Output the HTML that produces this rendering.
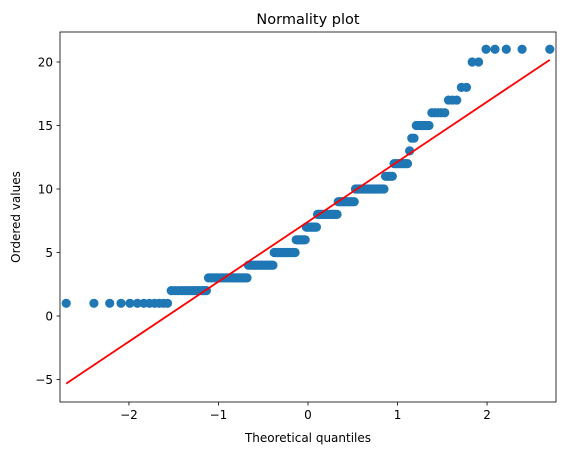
<!DOCTYPE html>
<html><head><meta charset="utf-8">
<style>
body{margin:0;background:#fff;}
svg{display:block;font-family:"DejaVu Sans","Liberation Sans",sans-serif;}
</style></head>
<body>
<svg id="chart" width="565" height="455"></svg>
<script>
const values = [1,2,3,4,5,6,7,8,9,10,11,12,13,14,15,16,17,18,20,21];
const counts = [12,14,24,20,19,9,10,18,14,21,5,8,1,2,6,5,3,2,2,5];
const xTicks = [-2,-1,0,1,2];
const yTicks = [-5,0,5,10,15,20];

const L=60,R=556,T=32,B=402;
const xMin=-2.77,xMax=2.77,yMin=-6.77,yMax=22.36;
const sx=v=>L+(v-xMin)/(xMax-xMin)*(R-L);
const sy=v=>B-(v-yMin)/(yMax-yMin)*(B-T);
const NS='http://www.w3.org/2000/svg';
const svg=document.getElementById('chart');
function mk(tag,attrs,parent){const e=document.createElementNS(NS,tag);for(const k in attrs)e.setAttribute(k,attrs[k]);(parent||svg).appendChild(e);return e;}

function ppf(p){
 const a=[-39.69683028665376,220.9460984245205,-275.9285104469687,138.3577518672690,-30.66479806614716,2.506628277459239];
 const b=[-54.47609879822406,161.5858368580409,-155.6989798598866,66.80131188771542,-13.28068155288572];
 const c=[-0.007784894002430293,-0.3223964580411365,-2.400758277161838,-2.549732539343734,4.374664141464968,2.938163982698783];
 const d=[0.007784695709041462,0.3224671290700398,2.445134137142996,3.754408661907416];
 let q,r;
 if(p<0.02425){q=Math.sqrt(-2*Math.log(p));return (((((c[0]*q+c[1])*q+c[2])*q+c[3])*q+c[4])*q+c[5])/((((d[0]*q+d[1])*q+d[2])*q+d[3])*q+1);}
 if(p>1-0.02425){q=Math.sqrt(-2*Math.log(1-p));return -(((((c[0]*q+c[1])*q+c[2])*q+c[3])*q+c[4])*q+c[5])/((((d[0]*q+d[1])*q+d[2])*q+d[3])*q+1);}
 q=p-0.5;r=q*q;return (((((a[0]*r+a[1])*r+a[2])*r+a[3])*r+a[4])*r+a[5])*q/(((((b[0]*r+b[1])*r+b[2])*r+b[3])*r+b[4])*r+1);
}
const ys=[];values.forEach((v,i)=>{for(let k=0;k<counts[i];k++)ys.push(v);});
const n=ys.length;
const xs=ys.map((_,i)=>{const mn=Math.pow(0.5,1/n);let m;if(i===0)m=1-mn;else if(i===n-1)m=mn;else m=(i+1-0.3175)/(n+0.365);return ppf(m);});

const frame=mk('rect',{x:L,y:T,width:R-L,height:B-T,fill:'none',stroke:'#000','stroke-width':0.8});



xTicks.forEach(t=>{
 const x=sx(t);
 const tk=mk('line',{x1:x,x2:x,y1:B,y2:B+3.5,stroke:'#000','stroke-width':0.8});
 
 
 const tx=mk('text',{x:x,y:B+17,'text-anchor':'middle','font-size':12});
 tx.textContent=(t<0?'\u2212'+(-t):t);
 
 
});
yTicks.forEach(t=>{
 const y=sy(t);
 const tk=mk('line',{x1:L-3.5,x2:L,y1:y,y2:y,stroke:'#000','stroke-width':0.8});
 
 
 const tx=mk('text',{x:L-7,y:y+4.5,'text-anchor':'end','font-size':12});
 tx.textContent=(t<0?'\u2212'+(-t):t);
 
 
});

xs.forEach((x,i)=>{
 const c=mk('circle',{cx:sx(x),cy:sy(ys[i]),r:4.6,fill:'#1f77b4'});
 
 
});

const mx=xs.reduce((a,b)=>a+b,0)/n,my=ys.reduce((a,b)=>a+b,0)/n;
let sxy=0,sxx=0;xs.forEach((x,i)=>{sxy+=(x-mx)*(ys[i]-my);sxx+=(x-mx)*(x-mx);});
const slope=sxy/sxx,icpt=my-slope*mx;
const x0=xs[0],x1=xs[n-1];
const fl=mk('line',{x1:sx(x0),y1:sy(icpt+slope*x0),x2:sx(x1),y2:sy(icpt+slope*x1),stroke:'#ff0000','stroke-width':1.8});



const ti=mk('text',{x:(L+R)/2,y:T-8,'text-anchor':'middle','font-size':14.5});
ti.textContent='Normality plot';


const xl=mk('text',{x:(L+R)/2,y:442,'text-anchor':'middle','font-size':12});
xl.textContent='Theoretical quantiles';


const yl=mk('text',{x:0,y:0,'text-anchor':'middle','font-size':12,transform:'translate(20,'+((T+B)/2)+') rotate(-90)'});
yl.textContent='Ordered values';


</script>
</body></html>
